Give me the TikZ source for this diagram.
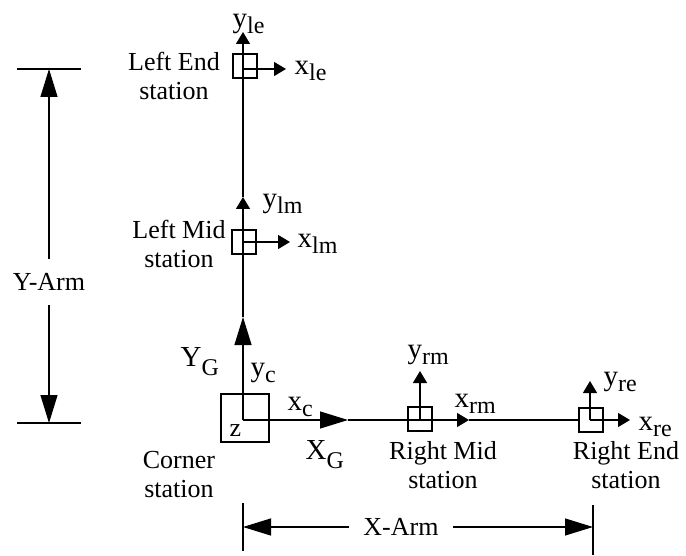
\documentclass[tikz,border=0pt]{standalone}
\usepackage{fontspec}
\setmainfont{Liberation Serif}
\usetikzlibrary{arrows.meta}

\newcommand{\axlbl}[3][3pt]{{\fontsize{14.5}{14.5}\selectfont #2}\raisebox{-#1}{\fontsize{12}{12}\selectfont #3}}

\tikzset{
  bigarrow/.style={-{Triangle[length=14pt,width=8.5pt]}},
  smallarrow/.style={-{Triangle[length=6pt,width=7pt]}},
  stationbox/.style={draw, inner sep=0pt, minimum size=12pt},
  stationtext/.style={align=center, font=\fontsize{13}{14.5}\selectfont},
  axistext/.style={anchor=base west, inner sep=0pt},
  dimtext/.style={inner sep=7pt, font=\fontsize{13}{14.5}\selectfont},
}

\begin{document}
\begin{tikzpicture}[x=0.5pt, y=-0.5pt, line width=0.6pt]
  \useasboundingbox (0,0) rectangle (686,556);

  % Station origins
  \coordinate (c0) at (243,420);
  \coordinate (lm0) at (243,242);
  \coordinate (le0) at (243,69);
  \coordinate (rm0) at (420,420);
  \coordinate (re0) at (590,420);

  % Station boxes
  \node[stationbox, minimum size=24pt] (cbox) at (245,418) {};
  \node[stationbox] (lmbox) at (244,242) {};
  \node[stationbox] (lebox) at (245,66) {};
  \node[stationbox] (rmbox) at (420,419) {};
  \node[stationbox] (rebox) at (591,420) {};

  % Arrow tips
  \coordinate (yctip) at (243,317);
  \coordinate (ylmtip) at (243,197);
  \coordinate (yletip) at (243,32);
  \coordinate (xctip) at (348,420);
  \coordinate (xrmtip) at (469,420);
  \coordinate (xretip) at (630,420);
  \coordinate (xlmtip) at (290,242);
  \coordinate (xletip) at (286,69);
  \coordinate (yrmtip) at (420,371);
  \coordinate (yretip) at (590,381);

  % Y arm
  \draw[bigarrow] (c0) -- (yctip);
  \draw (yctip) -- (lm0);
  \draw[smallarrow] (lm0) -- (ylmtip);
  \draw (ylmtip) -- (le0);
  \draw[smallarrow] (le0) -- (yletip);

  % X arm
  \draw[bigarrow] (c0) -- (xctip);
  \draw (xctip) -- (rm0);
  \draw[smallarrow] (rm0) -- (xrmtip);
  \draw (xrmtip) -- (rebox.west);
  \draw[smallarrow] (re0) -- (xretip);

  % Local axes
  \draw[smallarrow] (lm0) -- (xlmtip);
  \draw[smallarrow] (le0) -- (xletip);
  \draw[smallarrow] (rm0) -- (yrmtip);
  \draw[smallarrow] (re0) -- (yretip);

  % Axis labels
  \node[axistext] (yle) at (232,28) {\axlbl{y}{le}};
  \node[axistext] (xle) at (294,75) {\axlbl{x}{le}};
  \node[axistext] (ylm) at (262,207) {\axlbl{y}{lm}};
  \node[axistext] (xlm) at (297,248) {\axlbl{x}{lm}};
  \node[axistext] (yc) at (250,376) {\axlbl{y}{c}};
  \node[axistext] (xc) at (287,410) {\axlbl{x}{c}};
  \node[axistext] (YG) at (180,366) {\axlbl[4.5pt]{Y}{G}};
  \node[axistext] (XG) at (305,459) {\axlbl[4.5pt]{X}{G}};
  \node[axistext] (yrm) at (407,358) {\axlbl{y}{rm}};
  \node[axistext] (xrm) at (454,407) {\axlbl{x}{rm}};
  \node[axistext] (yre) at (603,385) {\axlbl{y}{re}};
  \node[axistext] (xre) at (638,430) {\axlbl{x}{re}};
  \node[axistext, font=\fontsize{13}{13}\selectfont] (z) at (229,436) {z};

  % Station names
  \node[stationtext] (letext) at (174,76) {Left End\\station};
  \node[stationtext] (lmtext) at (179,244) {Left Mid\\station};
  \node[stationtext] (ctext) at (179,475) {Corner\\station};
  \node[stationtext] (rmtext) at (443,465) {Right Mid\\station};
  \node[stationtext] (retext) at (626,465) {Right End\\station};

  % Y-Arm dimension
  \node[dimtext] (yarm) at (49,282) {Y-Arm};
  \coordinate (yarmtop) at (49,69);
  \coordinate (yarmbot) at (49,423);
  \draw (yarmtop) ++(-32,0) -- ++(64,0);
  \draw (yarmbot) ++(-32,0) -- ++(64,0);
  \draw[bigarrow] (yarm) -- (yarmtop);
  \draw[bigarrow] (yarm) -- (yarmbot);

  % X-Arm dimension
  \node[dimtext] (xarm) at (401,527) {X-Arm};
  \coordinate (xarml) at (243,527);
  \coordinate (xarmr) at (593,527);
  \draw (xarml) ++(0,-24) -- ++(0,48);
  \draw (xarmr) ++(0,-22) -- ++(0,50);
  \draw[bigarrow] (xarm) -- (xarml);
  \draw[bigarrow] (xarm) -- (xarmr);
\end{tikzpicture}
\end{document}
